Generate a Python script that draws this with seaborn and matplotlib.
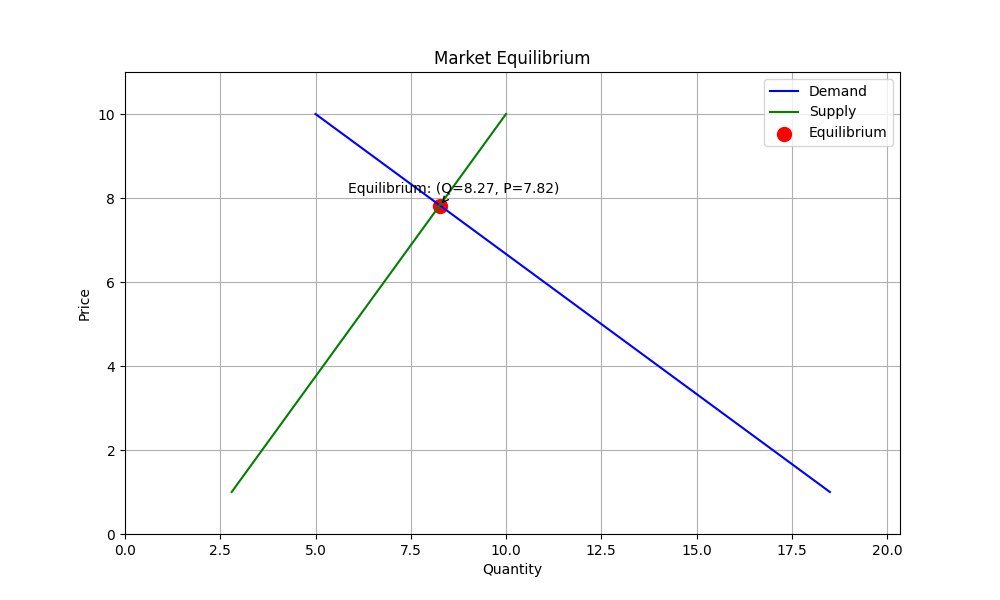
import matplotlib
matplotlib.use("Agg")
import matplotlib.pyplot as plt
import seaborn as sns

# demand and supply curves (end points)
demand_q = [5.0, 18.5]
demand_p = [10.0, 1.0]
supply_q = [2.8, 10.0]
supply_p = [1.0, 10.0]

# equilibrium point
eq_q = [8.27]
eq_p = [7.82]

fig, ax = plt.subplots(figsize=(10, 6), dpi=100)

sns.lineplot(x=demand_q, y=demand_p, color="blue", label="Demand", ax=ax)
sns.lineplot(x=supply_q, y=supply_p, color="green", label="Supply", ax=ax)
sns.scatterplot(x=eq_q, y=eq_p, color="red", s=100, edgecolor="red",
                linewidth=1, label="Equilibrium", zorder=1, ax=ax)

ax.annotate(f"Equilibrium: (Q={eq_q[0]:.2f}, P={eq_p[0]:.2f})",
            xy=(eq_q[0], eq_p[0]),
            xytext=(eq_q[0] - 2.42, eq_p[0] + 0.3),
            arrowprops=dict(arrowstyle="->", color="black"))

ax.set_xlim(0, 20.34)
ax.set_ylim(0, 11)
ax.set_title("Market Equilibrium")
ax.set_xlabel("Quantity")
ax.set_ylabel("Price")
ax.grid(True)
ax.legend(loc="upper right")

plt.savefig("out.png")
